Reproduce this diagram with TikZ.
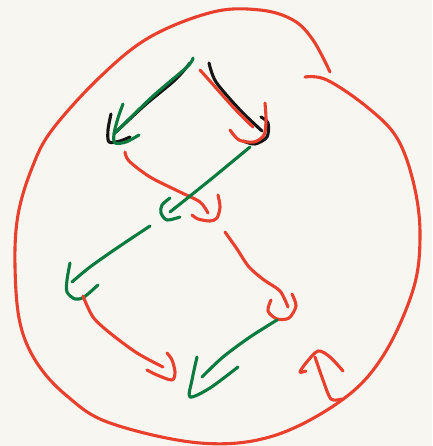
\documentclass[tikz,border=0pt]{standalone}
\usepackage{tikz}
\definecolor{bg}{HTML}{F8F6F1}
\definecolor{pred}{HTML}{E8402C}
\definecolor{pgreen}{HTML}{0B7A3E}
\definecolor{pblack}{HTML}{151515}
\tikzset{
  stroke/.style={line width=3.1pt, line cap=round, line join=round},
  redpen/.style={stroke, draw=pred},
  greenpen/.style={stroke, draw=pgreen},
  blackpen/.style={stroke, draw=pblack}
}
\begin{document}
\begin{tikzpicture}[x=1pt,y=-1pt]
\fill[bg] (0,0) rectangle (432,446);
\useasboundingbox (0,0) rectangle (432,446);
% big loop
\draw[redpen] plot[smooth, tension=0.6] coordinates {(305,77) (327,80) (367,107) (397,138) (414,185) (420,236) (413,290) (383,356) (342,400) (273,436) (200,443) (110,423) (67,396) (37,363) (20,323) (15,266) (18,215) (32,168) (52,130) (100,77) (150,37) (213,12) (260,10) (293,20) (313,40) (330,72)};
% top-left black arrow (under green)
\draw[blackpen] plot[smooth] coordinates {(190,63) (175,80) (145,105) (116,132)};
\draw[blackpen] plot[smooth] coordinates {(111,114) (108,130) (109,142) (120,141) (130,137)};
% top-left green arrow
\draw[greenpen] plot[smooth] coordinates {(193,58) (187,67) (152,97) (114,134)};
\draw[greenpen] plot[smooth] coordinates {(123,104) (118,118) (114,134) (115,143) (126,142) (139,135)};
% top-right black arrow
\draw[blackpen] plot[smooth] coordinates {(209,63) (216,82) (240,110) (262,131)};
\draw[blackpen] plot[smooth] coordinates {(261,117) (268,123) (267,137) (255,144) (243,141)};
% top-right red arrow
\draw[redpen] plot[smooth] coordinates {(200,70) (209,80) (234,108) (253,127)};
\draw[redpen] plot[smooth] coordinates {(230,130) (239,140) (254,142) (264,135) (266,120) (265,103)};
% middle red
\draw[redpen] plot[smooth] coordinates {(125,152) (129,161) (150,177) (180,192) (200,202) (208,213)};
\draw[redpen] plot[smooth] coordinates {(192,215) (198,219) (210,221) (217,218) (220,207) (218,195)};
% middle green
\draw[greenpen] plot[smooth] coordinates {(250,147) (210,180) (170,212)};
\draw[greenpen] plot[smooth] coordinates {(170,198) (162,205) (161,213) (167,220) (180,217)};
% lower-left green
\draw[greenpen] plot[smooth] coordinates {(150,226) (117,248) (90,267) (72,282)};
\draw[greenpen] plot[smooth] coordinates {(70,263) (67,280) (67,292) (75,299) (84,297) (98,285)};
% lower-left red
\draw[redpen] plot[smooth] coordinates {(83,296) (93,317) (110,333) (137,353) (163,367)};
\draw[redpen] plot[smooth] coordinates {(147,370) (157,375) (172,380) (175,372) (172,360) (167,353)};
% lower-right red
\draw[redpen] plot[smooth] coordinates {(225,232) (237,249) (249,267) (264,280) (280,291) (288,307)};
\draw[redpen] plot[smooth] coordinates {(271,300) (268,311) (277,319) (289,318) (296,306) (292,294)};
% lower-right green
\draw[greenpen] plot[smooth] coordinates {(277,320) (250,337) (223,357) (202,377)};
\draw[greenpen] plot[smooth] coordinates {(197,357) (192,380) (190,397) (210,388) (238,367)};
% up arrow
\draw[redpen] plot[smooth] coordinates {(342,399) (331,399) (323,380) (315,357)};
\draw[redpen] plot[smooth] coordinates {(306,371) (300,372) (306,363) (318,351) (330,357) (343,371)};
\end{tikzpicture}
\end{document}
